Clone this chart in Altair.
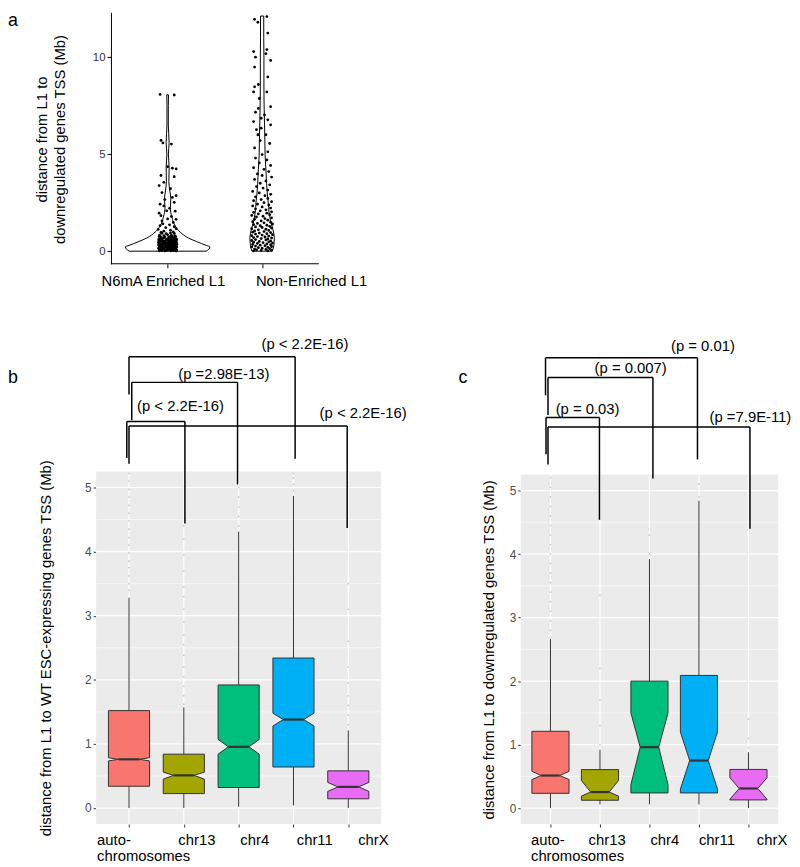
import altair as alt
import pandas as pd

FONT = "Liberation Sans"

# ---------------- Panel a : violins ----------------
a_groups = ["N6mA Enriched L1", "Non-Enriched L1"]
a_label_left = [0.30, 1.934]          # left edge of category labels (category units)
a_y_ticks = [0, 5, 10]
a_y_title = ["distance from L1 to", "downregulated  genes TSS (Mb)"]

a_violin_levels = [
    [0.0, 0.1, 0.22, 0.3, 0.39, 0.5, 0.68, 0.98, 1.29, 1.75, 2.26, 2.7, 3.1, 3.6, 4.3, 5.0, 5.6, 6.5, 7.5, 8.06],
    [0.0, 0.3, 0.7, 1.1, 1.6, 2.0, 2.5, 3.0, 3.5, 4.2, 5.0, 6.0, 7.0, 8.5, 10.0, 11.0, 12.12],
]
a_violin_half = [
    [0.408, 0.435, 0.448, 0.408, 0.359, 0.304, 0.22, 0.133, 0.081, 0.045, 0.028, 0.034, 0.023, 0.013, 0.016, 0.008, 0.016, 0.007, 0.007, 0.009],
    [0.108, 0.124, 0.129, 0.115, 0.087, 0.073, 0.065, 0.054, 0.047, 0.040, 0.031, 0.028, 0.023, 0.019, 0.019, 0.017, 0.017],
]

# jittered points: [offset from category centre, value]
a_points_1 = [
    [-0.08, 8.08], [0.07, 8.05], [-0.07, 5.71], [-0.05, 5.58], [0.04, 5.52],
    [0.0, 4.35], [0.05, 4.28], [0.09, 4.24], [-0.07, 3.9], [0.07, 3.84], [-0.04, 3.55], [-0.09, 3.38],
    [0.03, 3.22], [-0.06, 3.02], [0.09, 2.86], [0.05, 2.77], [-0.03, 2.66], [0.07, 2.52], [-0.08, 2.42],
    [-0.04, 2.33], [0.02, 2.21], [-0.01, 2.08], [0.08, 2.06], [-0.09, 1.96], [-0.07, 1.83], [0.04, 1.79],
    [0.0, 1.66], [0.09, 1.64], [-0.06, 1.56], [-0.05, 1.41], [0.06, 1.48], [0.02, 1.36], [-0.08, 1.31],
    [0.07, 1.26], [-0.02, 1.21], [0.09, 1.16], [-0.1, 1.12], [0.03, 1.08], [-0.04, 1.03], [0.06, 0.99],
    [-0.07, 0.97],
    [-0.09, 0.02], [-0.06, 0.04], [-0.03, 0.01], [0.0, 0.05], [0.03, 0.02], [0.06, 0.03], [0.09, 0.01],
    [-0.08, 0.09], [-0.045, 0.1], [-0.02, 0.07], [0.012, 0.11], [0.04, 0.08], [0.072, 0.1], [0.095, 0.07],
    [-0.095, 0.15], [-0.065, 0.14], [-0.035, 0.17], [-0.004, 0.15], [0.027, 0.13], [0.055, 0.17], [0.085, 0.15],
    [-0.085, 0.22], [-0.052, 0.24], [-0.02, 0.21], [0.01, 0.23], [0.041, 0.24], [0.07, 0.2], [0.097, 0.22],
    [-0.09, 0.3], [-0.062, 0.28], [-0.03, 0.32], [0.002, 0.3], [0.032, 0.28], [0.061, 0.31], [0.09, 0.29],
    [-0.08, 0.38], [-0.048, 0.36], [-0.015, 0.4], [0.016, 0.37], [0.046, 0.39], [0.075, 0.38], [0.097, 0.36],
    [-0.096, 0.46], [-0.06, 0.48], [-0.026, 0.45], [0.006, 0.47], [0.035, 0.46], [0.066, 0.44], [0.09, 0.47],
    [-0.085, 0.55], [-0.05, 0.53], [-0.018, 0.57], [0.021, 0.55], [0.052, 0.53], [0.08, 0.57],
    [-0.09, 0.63], [-0.055, 0.65], [-0.012, 0.62], [0.03, 0.64], [0.062, 0.62], [0.092, 0.63],
    [-0.07, 0.72], [-0.03, 0.74], [0.01, 0.71], [0.05, 0.73], [0.085, 0.75],
    [-0.085, 0.82], [-0.04, 0.8], [0.0, 0.84], [0.04, 0.82], [0.076, 0.79],
    [-0.06, 0.92], [-0.015, 0.9], [0.03, 0.94], [0.07, 0.91],
    [-0.075, 0.05], [-0.015, 0.03], [0.045, 0.05], [0.08, 0.12], [-0.05, 0.19], [0.02, 0.18],
    [-0.07, 0.33], [0.05, 0.34], [-0.035, 0.42], [0.07, 0.51], [-0.005, 0.59], [-0.07, 0.67],
    [-0.088, 0.06], [-0.058, 0.12], [-0.028, 0.05], [0.008, 0.13], [0.038, 0.06], [0.068, 0.13], [0.088, 0.04],
    [-0.078, 0.19], [-0.042, 0.2], [-0.01, 0.27], [0.022, 0.26], [0.058, 0.25], [0.085, 0.19],
    [-0.095, 0.34], [-0.06, 0.33], [-0.022, 0.35], [0.012, 0.33], [0.042, 0.34], [0.078, 0.32],
    [-0.088, 0.41], [-0.04, 0.43], [-0.005, 0.41], [0.028, 0.42], [0.058, 0.41], [0.095, 0.43],
    [-0.075, 0.5], [-0.035, 0.5], [0.0, 0.52], [0.04, 0.5], [0.085, 0.51],
    [-0.095, 0.58], [-0.065, 0.59], [0.01, 0.58], [0.045, 0.6], [0.095, 0.58],
    [-0.04, 0.68], [0.02, 0.67], [0.07, 0.68], [-0.09, 0.76], [0.03, 0.77],
]
a_points_2 = [
    [-0.08, 11.95], [-0.045, 11.8], [0.05, 12.09], [0.06, 11.24], [-0.09, 10.29], [0.05, 10.39], [0.04, 10.18],
    [-0.07, 10.0], [0.09, 9.83], [-0.08, 9.49], [0.06, 8.98], [-0.08, 8.47], [-0.09, 8.21], [0.05, 8.21],
    [-0.04, 8.59], [0.09, 7.45], [-0.03, 7.87], [-0.07, 7.16], [-0.04, 7.36], [0.025, 7.02], [-0.01, 6.85],
    [0.06, 6.77], [0.09, 6.51], [-0.09, 6.68], [-0.06, 6.26], [-0.01, 6.34], [-0.045, 6.0], [0.04, 6.0],
    [-0.08, 5.32], [0.06, 5.12], [0.0, 4.98], [0.08, 5.55], [-0.02, 5.7],
    [-0.07, 4.8], [0.05, 4.7], [-0.03, 4.55], [0.09, 4.42], [-0.09, 4.3], [0.02, 4.22], [0.07, 4.1],
    [-0.05, 3.98], [0.0, 3.9], [0.1, 3.82], [-0.08, 3.7], [0.04, 3.62], [-0.02, 3.5], [0.08, 3.42],
    [-0.06, 3.33], [0.01, 3.25], [0.06, 3.15], [-0.1, 3.08], [-0.03, 3.0], [0.09, 2.93], [0.03, 2.86],
    [-0.07, 2.8], [0.06, 2.72], [-0.01, 2.66], [-0.09, 2.6], [0.1, 2.55], [0.02, 2.5],
    [-0.05, 2.42], [0.07, 2.38], [-0.1, 2.33], [0.0, 2.28], [0.09, 2.22], [-0.07, 2.18], [0.04, 2.13],
    [-0.02, 2.08], [0.1, 2.03], [-0.09, 2.0],
    [0.05, 1.96], [-0.04, 1.92], [0.08, 1.88], [-0.11, 1.84], [0.01, 1.8], [-0.06, 1.76], [0.1, 1.72],
    [0.03, 1.68], [-0.08, 1.64], [0.06, 1.6], [-0.01, 1.56], [-0.1, 1.52],
    [0.09, 1.49], [0.02, 1.46], [-0.05, 1.43], [0.11, 1.4], [-0.09, 1.37], [0.05, 1.34], [-0.02, 1.31],
    [0.08, 1.28], [-0.07, 1.25], [0.0, 1.22], [0.1, 1.19], [-0.11, 1.16], [0.04, 1.13], [-0.04, 1.1],
    [0.07, 1.07], [-0.08, 1.04], [0.02, 1.01],
    [-0.1, 0.98], [0.09, 0.96], [-0.03, 0.93], [0.05, 0.9], [-0.07, 0.88], [0.11, 0.85], [0.0, 0.83],
    [-0.11, 0.8], [0.07, 0.78], [-0.05, 0.75], [0.03, 0.73], [-0.09, 0.7], [0.1, 0.68], [-0.01, 0.65],
    [0.06, 0.63], [-0.07, 0.6], [0.04, 0.58], [-0.11, 0.55], [0.09, 0.53], [-0.03, 0.5],
    [0.07, 0.48], [-0.09, 0.46], [0.01, 0.44], [0.11, 0.42], [-0.05, 0.4], [0.05, 0.37], [-0.1, 0.35],
    [0.09, 0.33], [-0.02, 0.31], [0.03, 0.28], [-0.07, 0.26], [0.1, 0.24], [-0.11, 0.22], [0.06, 0.2],
    [-0.04, 0.18], [0.0, 0.15], [0.08, 0.13], [-0.08, 0.11], [0.04, 0.09], [-0.06, 0.07], [0.1, 0.05],
    [-0.01, 0.04], [0.06, 0.02], [-0.09, 0.02],
]

# ---------------- Panels b and c : notched box plots ----------------
chrom_keys = ["auto", "chr13", "chr4", "chr11", "chrX"]
chrom_labels = ["auto-\nchromosomes", "chr13", "chr4", "chr11", "chrX"]
chrom_colors = ["#F8766D", "#A3A500", "#00BF7D", "#00B0F6", "#E76BF3"]
box_y_ticks = [0, 1, 2, 3, 4, 5]

b_title = "distance from L1 to WT ESC-expressing genes TSS (Mb)"
b_q1 = [0.34, 0.226, 0.32, 0.64, 0.144]
b_med = [0.76, 0.51, 0.955, 1.38, 0.33]
b_q3 = [1.52, 0.84, 1.92, 2.34, 0.58]
b_notch_lo = [0.735, 0.45, 0.84, 1.28, 0.26]
b_notch_hi = [0.785, 0.56, 1.07, 1.48, 0.40]
b_whisk_lo = [0.0, 0.0, 0.02, 0.04, 0.0]
b_whisk_hi = [3.28, 1.57, 4.31, 4.87, 1.21]
b_outliers = [
    [3.4, 3.5, 3.62, 3.75, 3.85, 3.98, 4.1, 4.22, 4.35, 4.48, 4.6, 4.72, 4.85, 4.97, 5.1, 5.22],
    [1.62, 1.75, 1.9, 2.05, 2.2, 2.38, 2.55, 2.7, 2.9, 3.1, 3.3, 3.45, 3.7, 3.95, 4.2, 4.4],
    [4.4, 4.55, 4.7, 4.85, 5.0],
    [4.95, 5.05, 5.15, 5.22],
    [1.3, 1.45, 1.6, 1.75, 1.95, 2.2, 2.6, 3.1, 3.5],
]
b_label_left = [0.418, 1.90, 3.03, 4.06, 5.18]
b_pvals = ["(p < 2.2E-16)", "(p =2.98E-13)", "(p < 2.2E-16)", "(p < 2.2E-16)"]
b_pval_x = [4.21, 2.73, 1.94, 5.27]
b_pval_y = [7.24, 6.77, 6.27, 6.16]
b_br_left = [1.0, 1.05, 0.96, 1.0]
b_br_right = [4.03, 2.98, 2.02, 4.98]
b_br_top = [7.04, 6.64, 6.03, 5.96]
b_br_left_end = [6.45, 6.05, 5.46, 5.37]
b_br_right_end = [5.45, 5.05, 4.44, 4.37]

c_title = "distance from L1 to downregulated  genes TSS (Mb)"
c_q1 = [0.234, 0.19, 0.24, 0.24, 0.13]
c_med = [0.514, 0.254, 0.96, 0.75, 0.31]
c_q3 = [1.21, 0.607, 2.0, 2.09, 0.61]
c_notch_lo = [0.45, 0.125, 0.37, 0.30, 0.14]
c_notch_hi = [0.58, 0.436, 1.5, 1.2, 0.48]
c_whisk_lo = [0.0, 0.06, 0.06, 0.06, 0.0]
c_whisk_hi = [2.66, 0.92, 3.92, 4.84, 0.88]
c_outliers = [
    [2.8, 2.95, 3.1, 3.25, 3.4, 3.55, 3.7, 3.85, 4.0, 4.15, 4.3, 4.45, 4.6, 4.75, 4.9, 5.05, 5.2],
    [1.0, 1.3, 1.7, 2.2, 3.35],
    [4.0, 4.3],
    [4.9, 5.1],
    [0.95, 1.1, 1.4],
]
c_label_left = [0.606, 1.77, 3.02, 4.0, 5.17]
c_pvals = ["(p = 0.01)", "(p = 0.007)", "(p = 0.03)", "(p =7.9E-11)"]
c_pval_x = [4.08, 2.62, 1.75, 5.04]
c_pval_y = [7.28, 6.93, 6.29, 6.16]
c_br_left = [0.9, 0.95, 0.91, 0.95]
c_br_right = [3.97, 3.07, 1.99, 5.03]
c_br_top = [7.09, 6.78, 6.15, 6.0]
c_br_left_end = [6.5, 6.19, 5.57, 5.41]
c_br_right_end = [5.49, 5.19, 4.54, 4.4]

# ---------------- helpers ----------------
def qx(field, scale, axis=alt.Undefined):
    return alt.X(field, type="quantitative", scale=scale, axis=axis)


def qy(field, scale, axis=alt.Undefined):
    return alt.Y(field, type="quantitative", scale=scale, axis=axis)


def letter(t, dx, dy):
    return alt.Chart(pd.DataFrame({"t": [t]})).mark_text(
        font=FONT, fontSize=18, align="left", baseline="top", color="black"
    ).encode(text="t:N", x=alt.value(dx), y=alt.value(dy))


# ---------------- Panel a ----------------
# the plot cell starts 15px left of the axis line (it shares its left edge with panel b)
A_W, A_H = 225, 254
A_X0, A_X1 = 0.4, 2.6
ax_scale = alt.Scale(domain=[A_X0 - 15 / 95.5, A_X1], nice=False, zero=False)
ay_scale = alt.Scale(domain=[-0.65, 12.31], nice=False, zero=False)

vrows = []
for gi, g in enumerate(a_groups):
    for lv, hw in zip(a_violin_levels[gi], a_violin_half[gi]):
        vrows.append({"g": g, "v": lv, "xl": gi + 1 - hw, "xr": gi + 1 + hw})
vdf = pd.DataFrame(vrows)

prow = []
for gi, pts in enumerate([a_points_1, a_points_2]):
    for dx, v in pts:
        prow.append({"x": gi + 1 + dx, "v": v})
pdf = pd.DataFrame(prow)

a_yaxis = alt.Axis(
    values=a_y_ticks, grid=False, domain=True, domainColor="black", domainWidth=1, offset=-15,
    ticks=True, tickColor="black", tickSize=4, labelFont=FONT, labelFontSize=11.5,
    labelColor="#333333", labelPadding=2, title=a_y_title, titleFont=FONT,
    titleFontSize=15, titleFontWeight="normal", titleColor="black",
    titleX=-70, titleY=128, titleBaseline="middle", titleLineHeight=18,
)
a_xaxis = alt.Axis(
    values=[1, 2], labels=False, grid=False, domain=False,
    ticks=True, tickColor="black", tickSize=4, title=None,
)

violins = alt.Chart(vdf).mark_area(
    orient="horizontal", fill="white", stroke="black", strokeWidth=1, interpolate="monotone"
).encode(
    y=qy("v", ay_scale, a_yaxis), x=qx("xl", ax_scale, a_xaxis), x2="xr", detail="g:N",
)
a_baseline = alt.Chart(pd.DataFrame({"x": [A_X0], "x2": [A_X1], "y": [-0.65]})).mark_rule(
    color="black", strokeWidth=1
).encode(x=qx("x", ax_scale), x2="x2", y=qy("y", ay_scale))
points = alt.Chart(pdf).mark_circle(size=8, color="black", opacity=1).encode(
    x=qx("x", ax_scale), y=qy("v", ay_scale)
)
a_labels = alt.Chart(pd.DataFrame({"t": a_groups, "x": a_label_left})).mark_text(
    font=FONT, fontSize=15, align="left", baseline="top", color="black"
).encode(x=qx("x", ax_scale), y=alt.value(A_H + 10), text="t:N")

panel_a = alt.layer(violins, a_baseline, points, a_labels, letter("a", -89, 0)).properties(width=A_W, height=A_H)

# empty grid cell to the right of panel a (its only text is empty and anchored top-left)
spacer = alt.Chart(pd.DataFrame({"t": [""]})).mark_text(
    align="left", baseline="top", fontSize=1
).encode(text="t:N", x=alt.value(0), y=alt.value(0)).properties(width=1, height=1)


# ---------------- Panels b / c ----------------
def box_panel(W, H, ytop, title, title_x, q1, med, q3, nlo, nhi, wlo, whi, outl,
              label_left, pvals, pval_x, pval_y, brl, brr, brt, brle, brre, letter_t, letter_dx):
    xs = alt.Scale(domain=[0.4, 5.6], nice=False, zero=False)
    ys = alt.Scale(domain=[-0.25, ytop], nice=False, zero=False)
    gray_top = 5.25
    gray_bottom = -0.25
    px_per = H / (ytop + 0.25)
    title_y = H - (gray_top - gray_bottom) * px_per / 2

    yaxis = alt.Axis(
        values=box_y_ticks, grid=False, domain=False, ticks=True, tickColor="#333333",
        tickSize=3, labelFont=FONT, labelFontSize=12, labelColor="#4D4D4D", labelPadding=2,
        format="d", title=title, titleFont=FONT, titleFontSize=15, titleFontWeight="normal",
        titleColor="black", titleX=title_x, titleY=title_y, titleBaseline="middle",
    )
    xaxis = alt.Axis(
        values=[1, 2, 3, 4, 5], labels=False, grid=False, domain=False, ticks=True,
        tickColor="#333333", tickSize=3, title=None,
    )

    bg = alt.Chart(pd.DataFrame({"x": [0.4], "x2": [5.6], "y": [gray_bottom], "y2": [gray_top]})).mark_rect(
        color="#EBEBEB"
    ).encode(x=qx("x", xs, xaxis), x2="x2", y=qy("y", ys, yaxis), y2="y2")

    minor = alt.Chart(pd.DataFrame({"y": [0.5, 1.5, 2.5, 3.5, 4.5], "x": [0.4] * 5, "x2": [5.6] * 5})).mark_rule(
        color="white", strokeWidth=0.6
    ).encode(y=qy("y", ys), x=qx("x", xs), x2="x2")
    major = alt.Chart(pd.DataFrame({"y": box_y_ticks, "x": [0.4] * 6, "x2": [5.6] * 6})).mark_rule(
        color="white", strokeWidth=1.2
    ).encode(y=qy("y", ys), x=qx("x", xs), x2="x2")
    vgrid = alt.Chart(pd.DataFrame({"x": [1, 2, 3, 4, 5], "y": [gray_bottom] * 5, "y2": [gray_top] * 5})).mark_rule(
        color="white", strokeWidth=1.2
    ).encode(x=qx("x", xs), y=qy("y", ys), y2="y2")

    wrows, orows, brow, mrows = [], [], [], []
    hw, nhw = 0.375, 0.1875
    for i, g in enumerate(chrom_keys):
        c = i + 1
        wrows.append({"x": c, "y": wlo[i], "y2": q1[i]})
        wrows.append({"x": c, "y": q3[i], "y2": whi[i]})
        for v in outl[i]:
            orows.append({"x": c, "v": v})
        for v, w in [(q3[i], hw), (nhi[i], hw), (med[i], nhw), (nlo[i], hw), (q1[i], hw)]:
            brow.append({"g": g, "v": v, "xl": c - w, "xr": c + w})
        mrows.append({"x": c - nhw, "x2": c + nhw, "y": med[i]})

    whisk = alt.Chart(pd.DataFrame(wrows)).mark_rule(color="#333333", strokeWidth=1).encode(
        x=qx("x", xs), y=qy("y", ys), y2="y2"
    )
    outp = alt.Chart(pd.DataFrame(orows)).mark_circle(size=3, color="#C4C4C4", opacity=1).encode(
        x=qx("x", xs), y=qy("v", ys)
    )
    boxes = alt.Chart(pd.DataFrame(brow)).mark_area(
        orient="horizontal", stroke="#333333", strokeWidth=1, opacity=1
    ).encode(
        y=qy("v", ys), x=qx("xl", xs), x2="xr", detail="g:N",
        color=alt.Color("g:N", scale=alt.Scale(domain=chrom_keys, range=chrom_colors), legend=None),
    )
    medians = alt.Chart(pd.DataFrame(mrows)).mark_rule(color="#333333", strokeWidth=2.2).encode(
        x=qx("x", xs), x2="x2", y=qy("y", ys)
    )

    hb = pd.DataFrame({"x": brl, "x2": brr, "y": brt})
    vb_rows = []
    for i in range(len(brl)):
        vb_rows.append({"x": brl[i], "y": brt[i], "y2": brle[i]})
        vb_rows.append({"x": brr[i], "y": brt[i], "y2": brre[i]})
    br_h = alt.Chart(hb).mark_rule(color="black", strokeWidth=1.5).encode(
        x=qx("x", xs), x2="x2", y=qy("y", ys)
    )
    br_v = alt.Chart(pd.DataFrame(vb_rows)).mark_rule(color="black", strokeWidth=1.5).encode(
        x=qx("x", xs), y=qy("y", ys), y2="y2"
    )
    ptxt = alt.Chart(pd.DataFrame({"t": pvals, "x": pval_x, "y": pval_y})).mark_text(
        font=FONT, fontSize=15, align="center", baseline="middle", color="black"
    ).encode(x=qx("x", xs), y=qy("y", ys), text="t:N")
    xlab = alt.Chart(pd.DataFrame({"t": chrom_labels, "x": label_left})).mark_text(
        font=FONT, fontSize=15, align="left", baseline="top", color="black", lineBreak="\n", lineHeight=16
    ).encode(x=qx("x", xs), y=alt.value(H + 9), text="t:N")

    return alt.layer(
        bg, minor, major, vgrid, whisk, outp, boxes, medians, br_h, br_v, ptxt, xlab,
        letter(letter_t, letter_dx, 38),
    ).properties(width=W, height=H)


panel_b = box_panel(
    288, 498, 7.44, b_title, -51.5, b_q1, b_med, b_q3, b_notch_lo, b_notch_hi, b_whisk_lo, b_whisk_hi,
    b_outliers, b_label_left, b_pvals, b_pval_x, b_pval_y, b_br_left, b_br_right, b_br_top,
    b_br_left_end, b_br_right_end, "b", -89,
)
panel_c = box_panel(
    260, 498, 7.51, c_title, -33, c_q1, c_med, c_q3, c_notch_lo, c_notch_hi, c_whisk_lo, c_whisk_hi,
    c_outliers, c_label_left, c_pvals, c_pval_x, c_pval_y, c_br_left, c_br_right, c_br_top,
    c_br_left_end, c_br_right_end, "c", -63,
)

chart = alt.concat(
    panel_a, spacer, panel_b, panel_c,
    columns=2, spacing={"row": 68, "column": 141}, bounds="flush",
).properties(padding=0).configure_view(stroke=None)

chart.save("out.html", embed_options={"renderer": "svg", "actions": False})
